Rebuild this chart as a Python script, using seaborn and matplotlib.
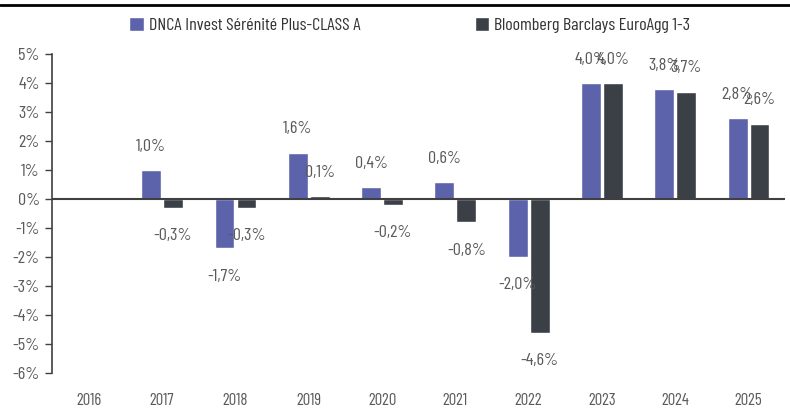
import numpy as np
import pandas as pd
import matplotlib
matplotlib.use("Agg")
import matplotlib.pyplot as plt
import seaborn as sns

# Chart data
years = ["2016", "2017", "2018", "2019", "2020", "2021", "2022", "2023", "2024", "2025"]
fund_name = "DNCA Invest Sérénité Plus-CLASS A"
bench_name = "Bloomberg Barclays EuroAgg 1-3"
fund_values = [np.nan, 1.0, -1.7, 1.6, 0.4, 0.6, -2.0, 4.0, 3.8, 2.8]
bench_values = [np.nan, -0.3, -0.3, 0.1, -0.2, -0.8, -4.6, 4.0, 3.7, 2.6]
y_ticks = [5, 4, 3, 2, 1, 0, -1, -2, -3, -4, -5, -6]

blue = "#5D63AA"
dark = "#3B3F46"
text_col = "#5a5a5a"

sns.set_theme(style="white")
plt.rcParams['font.family'] = ['Barlow Condensed', 'DejaVu Sans']

df = pd.DataFrame({
    "Year": years * 2,
    "Value": fund_values + bench_values,
    "Series": [fund_name] * len(years) + [bench_name] * len(years),
})

fig = plt.figure(figsize=(7.9, 4.08), dpi=100)
ax = fig.add_axes([0.066, 0.085, 0.928, 0.783])

sns.barplot(data=df, x="Year", y="Value", hue="Series", order=years,
            hue_order=[fund_name, bench_name], palette=[blue, dark],
            width=0.6, gap=0.1, errorbar=None, saturation=1, ax=ax)

# value labels above / below each bar
for cont in ax.containers:
    for bar in cont:
        v = bar.get_height()
        if np.isnan(v):
            continue
        x = bar.get_x() + bar.get_width() / 2
        off = 17 if v >= 0 else -20
        ax.annotate(f"{v:.1f}%".replace(".", ","), (x, v), xytext=(0, off),
                    textcoords="offset points", ha="center", va="center",
                    fontsize=13, color=text_col)

ax.axhline(0, color="#404040", lw=1.5, zorder=3)
ax.set_ylim(-6, 5)
ax.set_yticks(y_ticks)
ax.set_yticklabels([f"{t}%" for t in y_ticks], fontsize=13, color=text_col)
ax.tick_params(axis="y", left=True, length=5, width=1, color="#404040", pad=4)
ax.tick_params(axis="x", bottom=False, labelsize=12, labelcolor=text_col, pad=8)
ax.set_xlabel("")
ax.set_ylabel("")
for s in ["top", "right", "bottom"]:
    ax.spines[s].set_visible(False)
ax.spines["left"].set_color("#404040")
ax.spines["left"].set_linewidth(1.2)

ax.legend(loc="center", bbox_to_anchor=(0.488, 1.09), ncol=2, frameon=False,
          handlelength=0.8, handleheight=0.8, handletextpad=0.3, columnspacing=6.3,
          fontsize=13, labelcolor="#333333")

# thin black rule at the very top
fig.add_artist(plt.Line2D([0, 1], [0.988, 0.988], color="black", lw=2))

fig.savefig("out.png", dpi=100)
